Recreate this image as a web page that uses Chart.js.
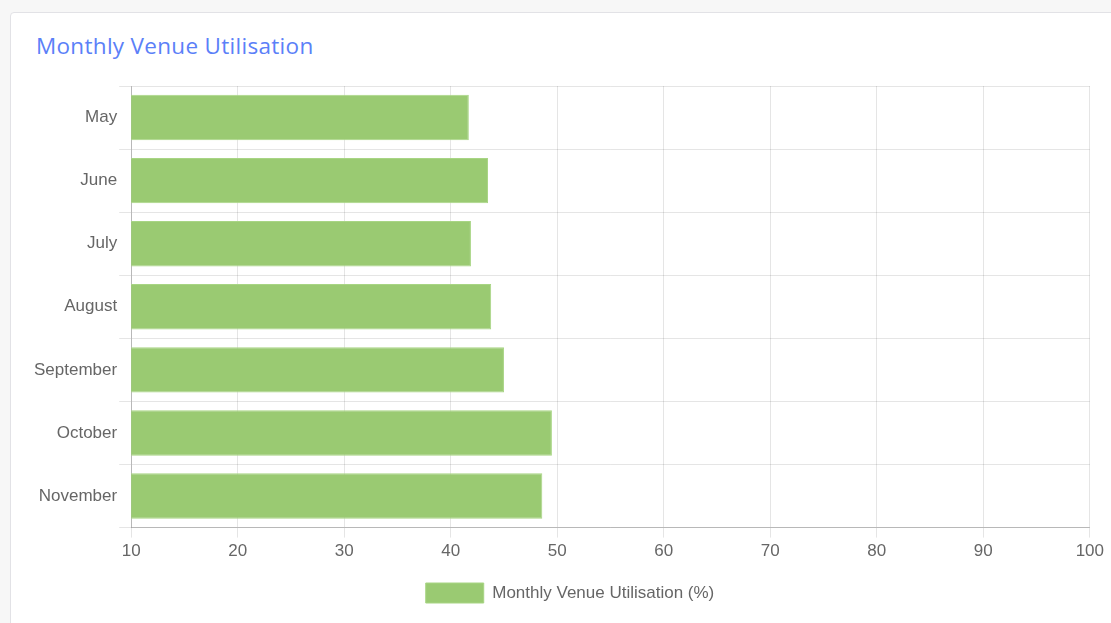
<!DOCTYPE html>
<html>
<head>
<meta charset="utf-8">
<script src="https://cdn.jsdelivr.net/npm/chart.js@4/dist/chart.umd.min.js"></script>
<style>
body{margin:0;background:#f7f7f7;width:1111px;height:623px;overflow:hidden;font-family:"Liberation Sans",Arial,sans-serif;}
.card{position:absolute;left:10px;top:12px;width:1120px;height:640px;background:#fff;border:1px solid #e2e2e6;border-radius:4px;}
.card h3{position:absolute;left:25px;top:17px;margin:0;font-family:"Open Sans",Lato,sans-serif;font-weight:400;font-size:22.5px;color:#5b80f8;letter-spacing:0.3px;}
.wrap{position:absolute;left:10px;top:68px;width:1098px;height:545px;}
</style>
</head>
<body>
<div class="card"><h3>Monthly Venue Utilisation</h3></div>
<div class="wrap"><canvas id="c"></canvas></div>
<script>
const months = ["May","June","July","August","September","October","November"];
const utilisation = [41.7, 43.5, 41.9, 43.8, 45.0, 49.5, 48.6];

const green = "#9aca72";
const tickColor = "#666";
const fontFam = "'Liberation Sans', Arial, Helvetica, sans-serif";

new Chart(document.getElementById("c"), {
    type: "bar",
    data: {
        labels: months,
        datasets: [{
            label: "Monthly Venue Utilisation (%)",
            data: utilisation,
            backgroundColor: green,
            borderColor: "#a8d584",
            borderWidth: 1
        }]
    },
    options: {
        indexAxis: "y",
        responsive: true,
        maintainAspectRatio: false,
        animation: false,
        layout: {padding: {left: 22, top: 18, right: 0, bottom: 0}},
        plugins: {
            legend: {
                position: "bottom",
                labels: {color: tickColor, font: {family: fontFam, size: 17}, boxWidth: 58, boxHeight: 20, padding: 17}
            },
            tooltip: {enabled: false}
        },
        scales: {
            x: {
                min: 10, max: 100,
                ticks: {stepSize: 10, color: tickColor, font: {family: fontFam, size: 17}, padding: 4},
                grid: {color: "rgba(0,0,0,0.1)", tickLength: 10},
                border: {color: "rgba(0,0,0,0.2)"}
            },
            y: {
                ticks: {color: tickColor, font: {family: fontFam, size: 17}, padding: 2},
                grid: {color: "rgba(0,0,0,0.1)", tickLength: 12},
                border: {color: "rgba(0,0,0,0.2)"}
            }
        }
    }
});
</script>
</body>
</html>
